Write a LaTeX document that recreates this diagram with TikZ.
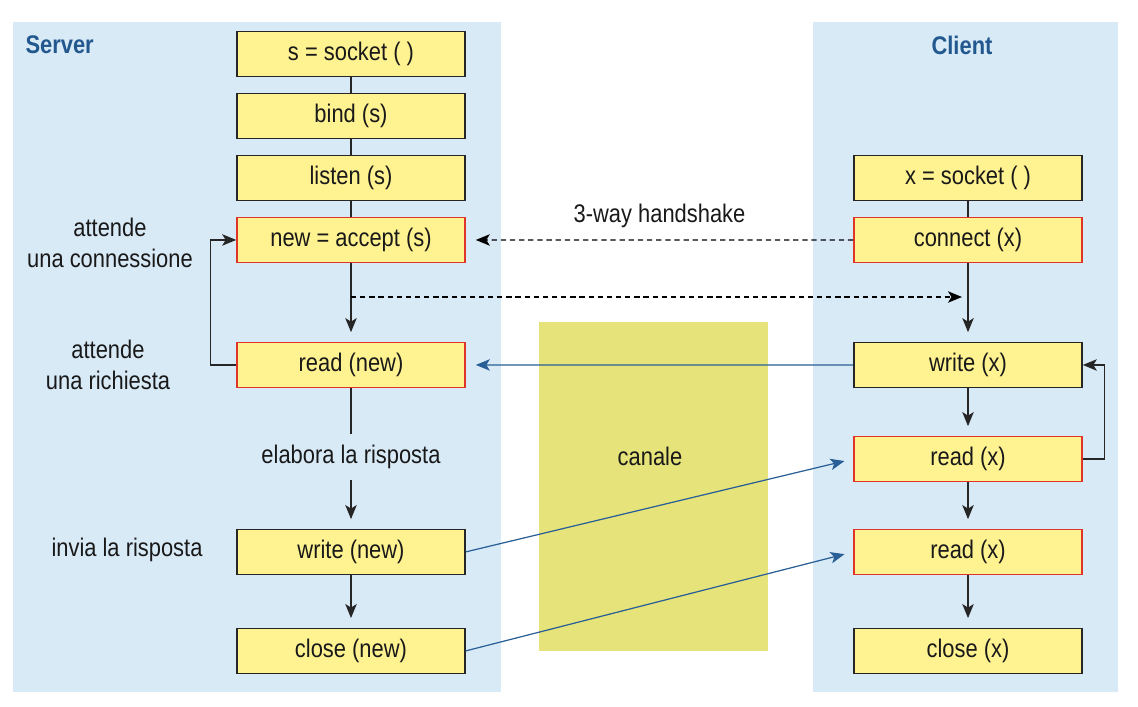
\documentclass[tikz,border=0pt]{standalone}
\usepackage{fontspec}
\setmainfont{Liberation Sans}[FakeStretch=0.86]
\usetikzlibrary{arrows.meta}

\definecolor{panelblue}{RGB}{217,234,247}
\definecolor{callfill}{RGB}{255,242,145}
\definecolor{waitred}{RGB}{222,52,42}
\definecolor{chanfill}{RGB}{230,227,122}
\definecolor{msgblue}{RGB}{40,95,150}
\definecolor{titleblue}{RGB}{35,88,143}

\begin{document}
\begin{tikzpicture}[x=0.02cm,y=-0.02cm,>={Stealth[length=8pt,width=6.5pt,inset=2pt]},
                    node distance=1.24cm,font=\fontsize{14.5}{18}\selectfont,
                    line width=0.8pt]
  \tikzstyle{call}=[draw=black!85,fill=callfill,text=black!90,line width=0.9pt,
                    minimum width=4.56cm,minimum height=0.9cm,inner sep=0pt]
  \tikzstyle{wait}=[call,draw=waitred]
  \tikzstyle{link}=[-,draw=black!85]
  \tikzstyle{flow}=[->,draw=black!85,shorten >=0.19cm]
  \tikzstyle{msg}=[->,draw=msgblue,line width=0.7pt]
  \tikzstyle{hand}=[->,draw=black,line width=0.7pt,dash pattern=on 3pt off 2.2pt]
  \tikzstyle{note}=[align=center,text=black!90]
  \tikzstyle{title}=[font=\fontsize{14.5}{18}\selectfont\bfseries,text=titleblue]

  \useasboundingbox (0,0) rectangle (1138,706);
  \fill[panelblue] (13,22) rectangle (501,692);
  \fill[panelblue] (813,22) rectangle (1118,692);
  \fill[chanfill] (539,322) rectangle (768,651);
  \node[note] (chan) at (650,456) {canale};

  \node[title,anchor=west] (srv) at (19,45) {Server};
  \node[title]             (cli) at (962,45) {Client};

  % server
  \node[call] (sock)   at (351,54)                       {s = socket ( )};
  \node[call] (bind)   [below of=sock]                   {bind (s)};
  \node[call] (listen) [below of=bind]                   {listen (s)};
  \node[wait] (accept) [below of=listen]                 {new = accept (s)};
  \node[wait] (rdnew)  [node distance=2.5cm,below of=accept] {read (new)};
  \node[note,inner sep=0.2cm] (elab) [node distance=1.84cm,below of=rdnew] {elabora la risposta};
  \node[call] (wrnew)  [node distance=3.74cm,below of=rdnew] {write (new)};
  \node[call] (clnew)  [node distance=1.98cm,below of=wrnew] {close (new)};

  \node[note] (waitconn) at (110,243) {attende\\una connessione};
  \node[note] (waitreq)  at (108,365) {attende\\una richiesta};
  \node[note] (send)     at (127,550) {invia la risposta};

  % client
  \node[call] (xsock)  at (968,178)                      {x = socket ( )};
  \node[wait] (conn)   [below of=xsock]                  {connect (x)};
  \node[call] (wrx)    [node distance=2.5cm,below of=conn]  {write (x)};
  \node[wait] (rdx)    [node distance=1.88cm,below of=wrx]  {read (x)};
  \node[wait] (rdxx)   [node distance=1.86cm,below of=rdx]  {read (x)};
  \node[call] (clx)    [node distance=1.98cm,below of=rdxx] {close (x)};

  \coordinate (ackL) at (351,297);
  \coordinate (ackR) at (962,297);

  \path (sock)   edge[link] (bind)
        (bind)   edge[link] (listen)
        (listen) edge[link] (accept)
        (accept) edge[flow] (rdnew)
        (rdnew)  edge[link] (elab)
        (elab)   edge[flow] (wrnew)
        (wrnew)  edge[flow] (clnew);
  \path (xsock)  edge[link] (conn)
        (conn)   edge[flow] (wrx)
        (wrx)    edge[flow] (rdx)
        (rdx)    edge[flow] (rdxx)
        (rdxx)   edge[flow] (clx);

  \draw[->,draw=black!85] (rdnew.west) -- ++(-26,0) |- (accept.west);
  \draw[->,draw=black!85] (rdx.east) -- ++(22,0) |- (wrx.east);

  \path (conn) edge[hand,shorten >=0.2cm] node[note,above=0.12cm] {3-way handshake} (accept);
  \draw[hand] (ackL) -- (ackR);

  \path (wrx.west)   edge[msg,shorten >=0.2cm] (rdnew.east)
        (wrnew.east) edge[msg,shorten >=0.18cm] (rdx.west)
        (clnew.east) edge[msg,shorten >=0.18cm] (rdxx.west);
\end{tikzpicture}
\end{document}
